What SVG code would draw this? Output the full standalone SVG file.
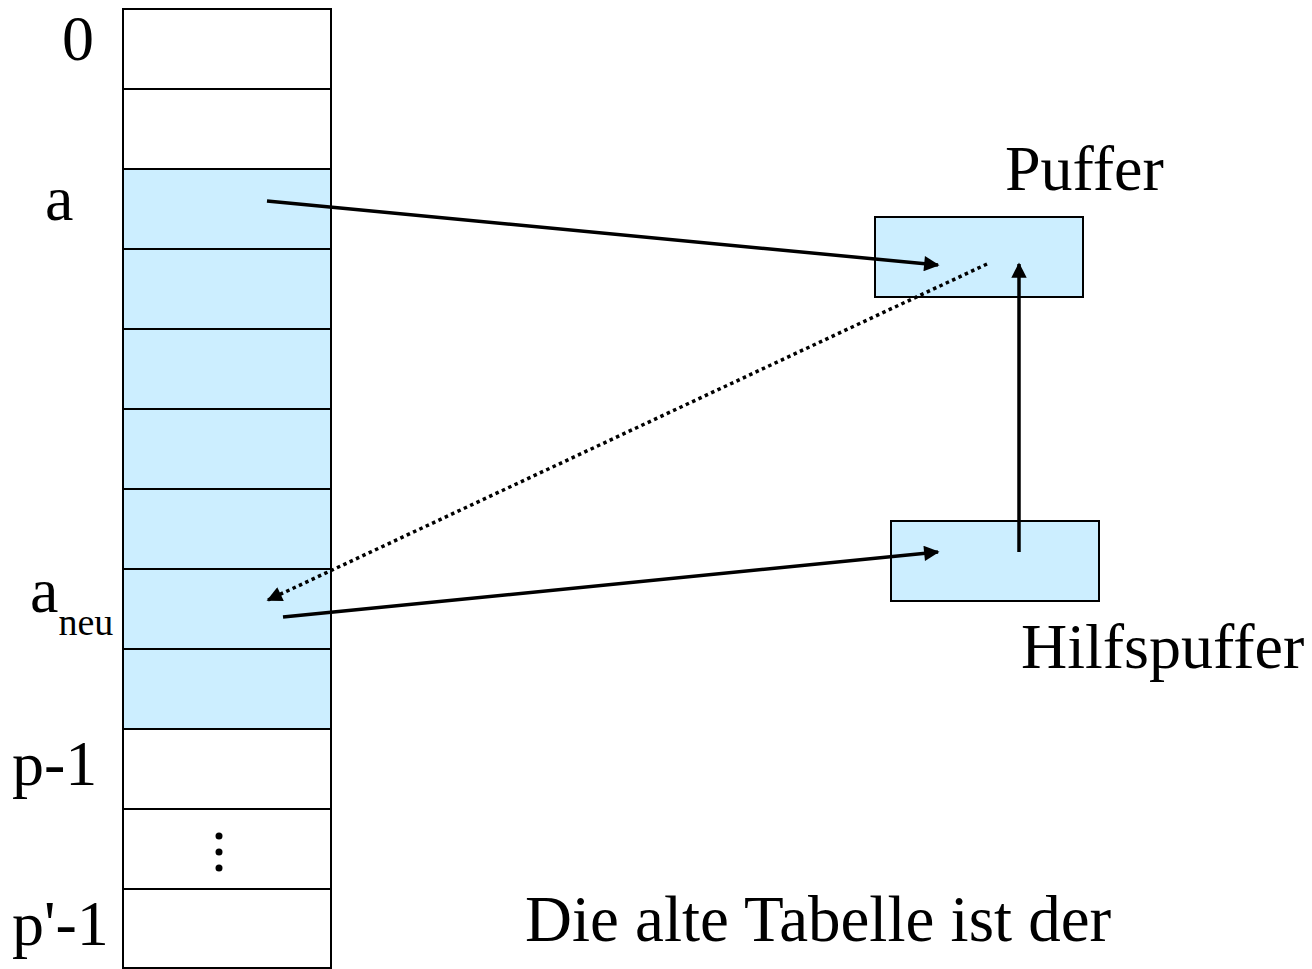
<svg xmlns="http://www.w3.org/2000/svg" width="1312" height="969" viewBox="0 0 1312 969">
  <style>
    .cell { stroke: #000; stroke-width: 2; }
    .used { fill: #cceeff; }
    .free { fill: #ffffff; }
    .box { fill: #cceeff; stroke: #000; stroke-width: 2; }
    .lbl { font-family: "Liberation Serif", "Times New Roman", serif; font-size: 64px; fill: #000; }
    .sub { font-size: 38px; }
    .conn { stroke: #000; stroke-width: 3.5; fill: none; }
    .dot { stroke-dasharray: 3.5 3.5; }
  </style>
  <defs>
    <marker id="head" viewBox="0 0 10 10" refX="9" refY="5" markerWidth="5.2" markerHeight="4.4" orient="auto" markerUnits="strokeWidth">
      <path d="M0,0 L10,5 L0,10 Z" fill="#000"/>
    </marker>
  </defs>
  <rect width="1312" height="969" fill="#fff"/>

  <!-- hash table column -->
  <g id="table">
    <rect class="cell free" x="123" y="9" width="208" height="80"/>
    <rect class="cell free" x="123" y="89" width="208" height="80"/>
    <rect class="cell used" x="123" y="169" width="208" height="80"/>
    <rect class="cell used" x="123" y="249" width="208" height="80"/>
    <rect class="cell used" x="123" y="329" width="208" height="80"/>
    <rect class="cell used" x="123" y="409" width="208" height="80"/>
    <rect class="cell used" x="123" y="489" width="208" height="80"/>
    <rect class="cell used" x="123" y="569" width="208" height="80"/>
    <rect class="cell used" x="123" y="649" width="208" height="80"/>
    <rect class="cell free" x="123" y="729" width="208" height="80"/>
    <rect class="cell free" x="123" y="809" width="208" height="80"/>
    <rect class="cell free" x="123" y="889" width="208" height="79"/>
    <circle cx="219" cy="836" r="3.5" fill="#000"/>
    <circle cx="219" cy="852" r="3.5" fill="#000"/>
    <circle cx="219" cy="868" r="3.5" fill="#000"/>
  </g>

  <!-- row labels -->
  <g id="labels">
    <text class="lbl" x="62" y="60">0</text>
    <text class="lbl" x="45" y="220">a</text>
    <text class="lbl" x="30" y="612">a<tspan class="sub" dy="23">neu</tspan></text>
    <text class="lbl" x="12" y="785">p-1</text>
    <text class="lbl" x="12" y="945">p'-1</text>
  </g>

  <g id="puffer">
    <rect class="box" x="875" y="217" width="208" height="80"/>
    <text class="lbl" x="1005" y="190">Puffer</text>
  </g>

  <g id="hilfspuffer">
    <rect class="box" x="891" y="521" width="208" height="80"/>
    <text class="lbl" x="1021" y="668">Hilfspuffer</text>
  </g>

  <g id="caption">
    <text class="lbl" x="525" y="941" style="font-size:65px">Die alte Tabelle ist der</text>
  </g>

  <g id="connectors">
    <line class="conn" x1="267" y1="201" x2="938" y2="265" marker-end="url(#head)"/>
    <line class="conn dot" x1="987" y1="264" x2="268" y2="600" marker-end="url(#head)"/>
    <line class="conn" x1="283" y1="617" x2="938" y2="552" marker-end="url(#head)"/>
    <line class="conn" x1="1019" y1="552" x2="1019" y2="264" marker-end="url(#head)"/>
  </g>
</svg>
